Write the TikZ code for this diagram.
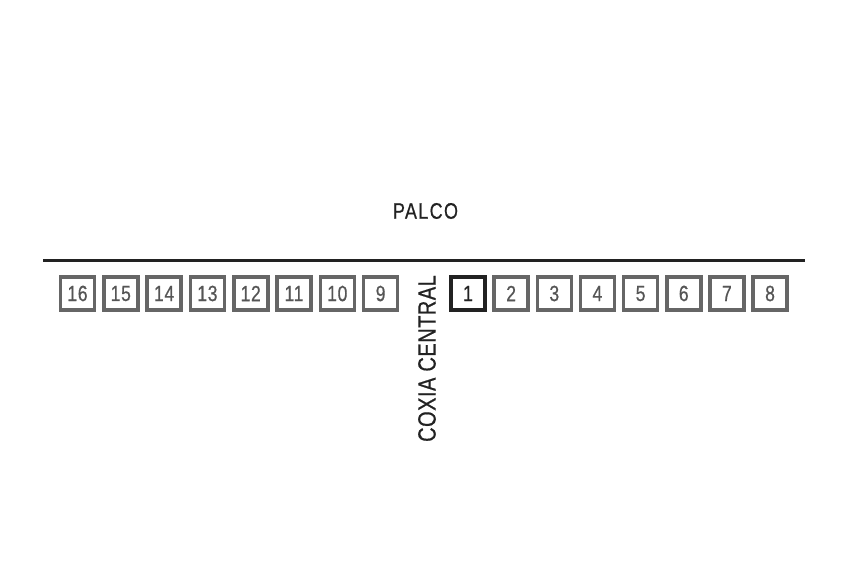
\documentclass[tikz,border=0pt]{standalone}
\usepackage{fontspec}
\setmainfont{Liberation Sans}[FakeStretch=0.8,FakeBold=0.6,LetterSpace=3]
\newfontfamily\spacedfont{Liberation Sans}[FakeStretch=0.8,FakeBold=0.6,LetterSpace=6]
\newfontfamily\coxiafont{Liberation Sans}[FakeStretch=0.8,FakeBold=0.6,LetterSpace=2]
\begin{document}
\begin{tikzpicture}[x=1pt,y=-1pt,
  seat/.style={draw=seatgray,line width=3.6pt,minimum width=34pt,minimum height=33pt,inner sep=0pt,text=numgray,font=\fontsize{22}{22}\selectfont},
  firstseat/.style={seat,draw=darkline,text=darkline}]
\definecolor{seatgray}{HTML}{666666}
\definecolor{numgray}{HTML}{555555}
\definecolor{darkline}{HTML}{222222}
\useasboundingbox (0,0) rectangle (850,567);
\node[font=\spacedfont\fontsize{22.5}{22.5}\selectfont,text=darkline] (palco) at (425.5,211) {PALCO};
\coordinate (lineL) at (43,260);
\coordinate (lineR) at (805,260);
\draw[darkline,line width=3pt] (lineL) -- (lineR);
\foreach \n [count=\i from 0] in {16,15,14,13,12,11,10,9} {
  \node[seat] (s\n) at ({77.5+43.3*\i},293.5) {\n};
}
\node[firstseat] (s1) at (468,293.5) {1};
\foreach \n [count=\i from 1] in {2,3,4,5,6,7,8} {
  \node[seat] (s\n) at ({468+43.15*\i},293.5) {\n};
}
\node[rotate=90,font=\coxiafont\fontsize{25}{25}\selectfont,text=darkline] (coxia) at (427,358.5) {COXIA CENTRAL};
\end{tikzpicture}
\end{document}
